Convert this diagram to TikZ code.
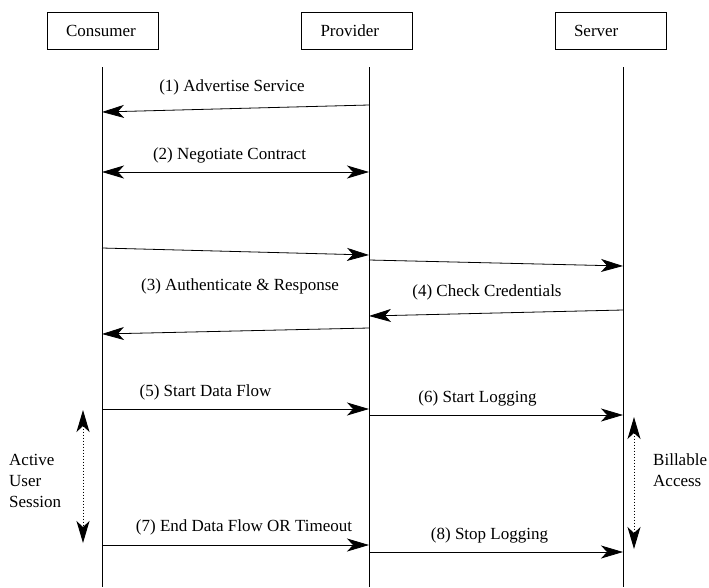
\documentclass[tikz,border=0pt]{standalone}
\usepackage{fontspec}
\setmainfont{Liberation Serif}
\usepackage{tikz}
\usetikzlibrary{arrows.meta}

\begin{document}
\begin{tikzpicture}[x=1pt,y=-1pt,font=\fontsize{17}{21}\selectfont,
  box/.style={draw,line width=0.8pt,minimum height=37pt,text width=73pt,inner xsep=19pt,align=left},
  life/.style={line width=0.8pt},
  msg/.style={line width=0.8pt,-{Stealth[length=22pt,width=13pt,inset=6pt]}},
  both/.style={line width=0.8pt,{Stealth[length=22pt,width=13pt,inset=6pt]}-{Stealth[length=22pt,width=13pt,inset=6pt]}},
  span/.style={line width=1pt,dotted,{Stealth[length=22pt,width=13pt,inset=6pt]}-{Stealth[length=22pt,width=13pt,inset=6pt]}},
  lbl/.style={inner sep=0pt}]
\useasboundingbox (0,0) rectangle (709,587);

% participants
\node[box] (cons) at (102.5,30.5) {Consumer};
\node[box] (prov) at (357,30.5) {Provider};
\node[box] (serv) at (610.5,30.5) {Server};

% lifelines
\coordinate (c0) at (102,67);
\coordinate (c9) at (102,587);
\coordinate (p0) at (369,67);
\coordinate (p9) at (369,587);
\coordinate (s0) at (623,67);
\coordinate (s9) at (623,587);
\draw[life] (c0) -- (c9);
\draw[life] (p0) -- (p9);
\draw[life] (s0) -- (s9);

% (1)
\coordinate (p1) at (369,105);
\coordinate (c1) at (102,112);
\draw[msg] (p1) -- (c1);
\node[lbl] (l1) at (232,87) {(1) Advertise Service};

% (2)
\coordinate (c2) at (102,172);
\coordinate (p2) at (369,172);
\draw[both] (c2) -- (p2);
\node[lbl] (l2) at (229.5,155) {(2) Negotiate Contract};

% (3) and (4)
\coordinate (c3) at (102,248);
\coordinate (p3) at (369,255);
\draw[msg] (c3) -- (p3);
\coordinate (p4) at (369,260);
\coordinate (s4) at (623,266);
\draw[msg] (p4) -- (s4);
\coordinate (s5) at (623,310);
\coordinate (p5) at (369,316);
\draw[msg] (s5) -- (p5);
\node[lbl] (l4) at (487,292) {(4) Check Credentials};
\coordinate (p6) at (369,328);
\coordinate (c6) at (102,334);
\draw[msg] (p6) -- (c6);
\node[lbl] (l3) at (240,286) {(3) Authenticate \& Response};

% (5) and (6)
\coordinate (c7) at (102,409);
\coordinate (p7) at (369,409);
\draw[msg] (c7) -- (p7);
\node[lbl] (l5) at (205.5,392) {(5) Start Data Flow};
\coordinate (p8) at (369,415);
\coordinate (s8) at (623,415);
\draw[msg] (p8) -- (s8);
\node[lbl] (l6) at (477.5,398) {(6) Start Logging};

% (7) and (8)
\coordinate (c10) at (102,545);
\coordinate (p10) at (369,545);
\draw[msg] (c10) -- (p10);
\node[lbl] (l7) at (244,527) {(7) End Data Flow OR Timeout};
\coordinate (p11) at (369,552);
\coordinate (s11) at (623,552);
\draw[msg] (p11) -- (s11);
\node[lbl] (l8) at (489.5,535) {(8) Stop Logging};

% session spans
\coordinate (u0) at (83,410);
\coordinate (u1) at (83,543);
\draw[span] (u0) -- (u1);
\node[lbl,anchor=west,align=left] (user) at (9,481) {Active\\User\\Session};
\coordinate (b0) at (634,417);
\coordinate (b1) at (634,549);
\draw[span] (b0) -- (b1);
\node[lbl,anchor=west,align=left] (bill) at (653,470) {Billable\\Access};
\end{tikzpicture}
\end{document}
